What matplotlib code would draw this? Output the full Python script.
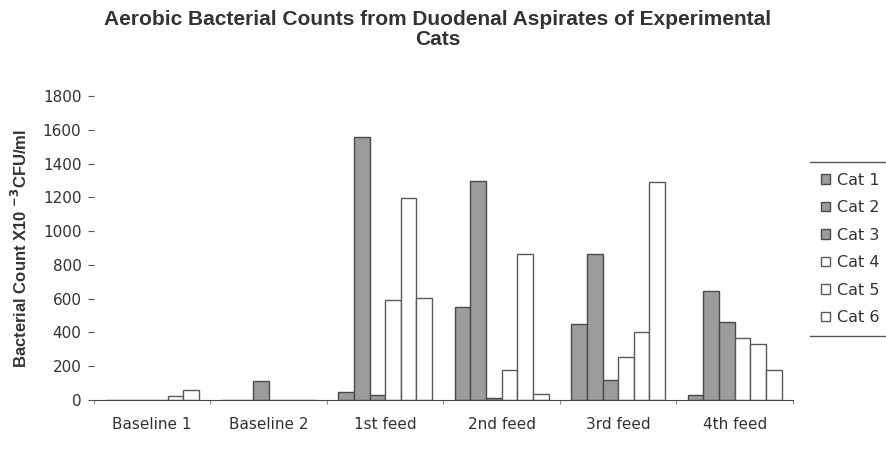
import numpy as np
import matplotlib.pyplot as plt
from matplotlib.lines import Line2D

plt.rcParams['font.family'] = ['Liberation Sans', 'DejaVu Sans']

groups = ['Baseline 1', 'Baseline 2', '1st feed', '2nd feed', '3rd feed', '4th feed']
cats = ['Cat 1', 'Cat 2', 'Cat 3', 'Cat 4', 'Cat 5', 'Cat 6']

cat1 = [0, 0, 45, 550, 448, 28]
cat2 = [0, 0, 1555, 1300, 862, 645]
cat3 = [0, 115, 28, 10, 118, 462]
cat4 = [0, 0, 592, 178, 256, 365]
cat5 = [25, 0, 1198, 862, 404, 330]
cat6 = [62, 0, 602, 34, 1292, 178]
series = [cat1, cat2, cat3, cat4, cat5, cat6]

fills = ['#9c9c9c', '#9c9c9c', '#9c9c9c', 'white', 'white', 'white']
edges = ['#4a4a4a', '#4a4a4a', '#4a4a4a', '#5a5a5a', '#5a5a5a', '#5a5a5a']

fig = plt.figure(figsize=(8.86, 4.51), dpi=100)
ax = fig.add_axes([0.106, 0.113, 0.789, 0.674])

x = np.arange(len(groups))
w = 0.134
for i, vals in enumerate(series):
    ax.bar(x + (i - 2.5) * w, vals, w, color=fills[i], edgecolor=edges[i],
           linewidth=1.0, label=cats[i])

ax.set_xlim(-0.5, 5.5)
ax.set_ylim(0, 1800)
ax.set_yticks(range(0, 1801, 200))
ax.set_xticks(x)
ax.set_xticklabels(groups, family='DejaVu Sans')
ax.set_yticklabels([str(v) for v in range(0, 1801, 200)], family='DejaVu Sans')
ax.set_xticks(np.arange(-0.5, 6, 1), minor=True)
ax.tick_params(axis='x', which='major', length=0, pad=12, labelsize=11, labelcolor='#333333')
ax.tick_params(axis='x', which='minor', length=3, color='#777777')
ax.tick_params(axis='y', length=4, pad=5, labelsize=11, labelcolor='#333333', color='#555555')

for s in ['top', 'right', 'left']:
    ax.spines[s].set_visible(False)
ax.spines['bottom'].set_color('#444444')

ax.set_ylabel(r'Bacterial Count X10 $^{\mathbf{-3}}$CFU/ml', fontsize=12, fontweight='bold',
              color='#333333', labelpad=9)

fig.text(0.494, 0.935, 'Aerobic Bacterial Counts from Duodenal Aspirates of Experimental\nCats',
         ha='center', va='center', fontsize=15, fontweight='bold', color='#333333',
         linespacing=1.1)

leg = fig.legend(loc='center left', bbox_to_anchor=(0.905, 0.448),
                 prop={'family': 'DejaVu Sans', 'size': 11.5},
                 frameon=False, handlelength=0.55, handleheight=0.55,
                 handletextpad=0.45, labelspacing=0.78, borderpad=0.7)
for t in leg.get_texts():
    t.set_color('#333333')

# legend box shows only top and bottom rules
fig.canvas.draw()
bb = leg.get_window_extent().transformed(fig.transFigure.inverted())
for yy in (bb.y0, bb.y1):
    fig.add_artist(Line2D([bb.x0, 1.0], [yy, yy], transform=fig.transFigure,
                          color='#555555', linewidth=1.0))

fig.savefig('out.png', dpi=100)
